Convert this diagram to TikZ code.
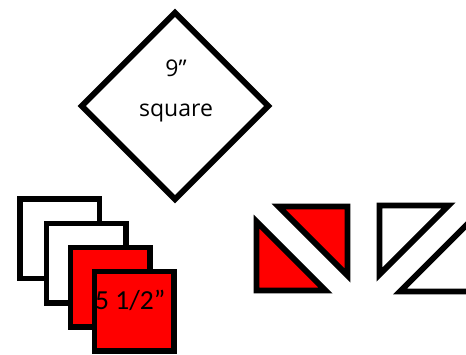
\documentclass[tikz,border=0pt]{standalone}
\usepackage{fontspec}
\setmainfont{Open Sans}
\newfontfamily\calib{Carlito}
\usetikzlibrary{shapes.geometric}
\definecolor{pred}{RGB}{255,0,0}
\begin{document}
\begin{tikzpicture}[x=1pt,y=-1pt,
  outl/.style={draw=black,line width=5.8pt,line join=miter},
  sq/.style={outl,rectangle,minimum width=79.5pt,minimum height=79.5pt,inner sep=0pt,anchor=north west},
  lbl/.style={inner sep=0pt,anchor=base,font=\fontsize{23}{27}\selectfont}]
\useasboundingbox (0,0) rectangle (466,354);
\clip (0,0) rectangle (466,354);
% diamond
\node[outl,diamond,aspect=1,minimum width=189pt,minimum height=189pt,inner sep=0pt] (dia) at (175,106) {};
\node[lbl] (nine) at (176,76.5) {9”};
\node[lbl] (sqtxt) at (176,116.5) {square};
% stacked squares
\node[sq,fill=white] (s1) at (17,196) {};
\node[sq,fill=white] (s2) at (43.5,220.5) {};
\node[sq,fill=pred] (s3) at (67.5,244.5) {};
\node[sq,fill=pred] (s4) at (91.5,268.5) {};
\node[inner sep=0pt,anchor=base west,font=\calib\fontsize{27.5}{30}\selectfont] (half) at (95,309) {5 1/2”};
% triangles
\coordinate (a1) at (256.5,221.5); \coordinate (a2) at (256.5,290.5); \coordinate (a3) at (325.5,290.5);
\draw[outl,fill=pred] (a1) -- (a2) -- (a3) -- cycle;
\coordinate (b1) at (278.5,206.5); \coordinate (b2) at (347.5,206.5); \coordinate (b3) at (347.5,275.5);
\draw[outl,fill=pred] (b1) -- (b2) -- (b3) -- cycle;
\coordinate (c1) at (379.5,205.5); \coordinate (c2) at (448.5,205.5); \coordinate (c3) at (379.5,274.5);
\draw[outl,fill=white] (c1) -- (c2) -- (c3) -- cycle;
\coordinate (d1) at (400,291.5); \coordinate (d2) at (469,291.5); \coordinate (d3) at (469,222.5);
\draw[outl,fill=white] (d1) -- (d2) -- (d3) -- cycle;
\end{tikzpicture}
\end{document}
